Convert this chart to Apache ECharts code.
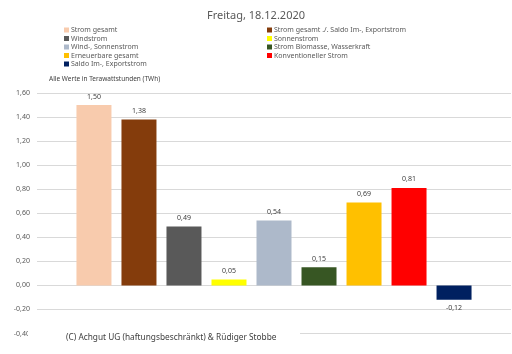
<!DOCTYPE html>
<html>
<head>
<meta charset="utf-8">
<script src="https://cdn.jsdelivr.net/npm/echarts@6/dist/echarts.min.js"></script>
<style>
  html, body { margin: 0; padding: 0; background: #fff; }
  #main { width: 512px; height: 354px; }
</style>
</head>
<body>
<div id="main"></div>
<script>
// Reihen (Legendenreihenfolge = Balkenreihenfolge)
var seriesNames = [
  'Strom gesamt',
  'Strom gesamt ./. Saldo Im-, Exportstrom',
  'Windstrom',
  'Sonnenstrom',
  'Wind-, Sonnenstrom',
  'Strom Biomasse, Wasserkraft',
  'Erneuerbare gesamt',
  'Konventioneller Strom',
  'Saldo Im-, Exportstrom'
];
var seriesValues = [1.50, 1.38, 0.49, 0.05, 0.54, 0.15, 0.69, 0.81, -0.12];
var seriesColors = ['#F8CBAD', '#843C0C', '#595959', '#FFFF00', '#ADB9CA', '#375623', '#FFC000', '#FF0000', '#002060'];
var legendLeft = ['Strom gesamt', 'Windstrom', 'Wind-, Sonnenstrom', 'Erneuerbare gesamt', 'Saldo Im-, Exportstrom'];
var legendRight = ['Strom gesamt ./. Saldo Im-, Exportstrom', 'Sonnenstrom', 'Strom Biomasse, Wasserkraft', 'Konventioneller Strom'];
var categories = ['Freitag'];

var font = 'Noto Sans';
function fmt(v) { return v.toFixed(2).replace('.', ','); }

var series = seriesNames.map(function (name, i) {
  return {
    name: name,
    type: 'bar',
    data: [seriesValues[i]],
    barWidth: 35,
    barGap: '28.6%',
    itemStyle: { color: seriesColors[i] },
    label: {
      show: true,
      position: seriesValues[i] < 0 ? 'bottom' : 'top',
      distance: 5,
      fontFamily: font,
      fontSize: 7,
      color: '#404040',
      formatter: function (p) { return fmt(p.value); }
    }
  };
});

var legendCommon = {
  orient: 'vertical',
  top: 26,
  itemWidth: 5,
  itemHeight: 5,
  itemGap: 0.5,
  icon: 'rect',
  padding: 0,
  textStyle: { fontFamily: font, fontSize: 7, color: '#595959', lineHeight: 8, padding: [0, 0, 0, -3] },
  selectedMode: false
};

var myChart = echarts.init(document.getElementById('main'));
myChart.setOption({
  animation: false,
  title: {
    text: 'Freitag, 18.12.2020',
    left: 'center',
    top: 5,
    textStyle: { fontFamily: font, fontSize: 11, fontWeight: 'normal', color: '#595959' }
  },
  legend: [
    Object.assign({ left: 64, data: legendLeft }, legendCommon),
    Object.assign({ left: 267, data: legendRight }, legendCommon)
  ],
  grid: { left: 37, right: 1, top: 93, bottom: 20.5 },
  xAxis: {
    type: 'category',
    data: categories,
    show: false
  },
  yAxis: {
    type: 'value',
    min: -0.4,
    max: 1.6,
    interval: 0.2,
    axisLine: { show: false },
    axisTick: { show: false },
    splitLine: { lineStyle: { color: '#D9D9D9', width: 1 } },
    axisLabel: {
      margin: 7,
      fontFamily: font,
      fontSize: 7,
      color: '#595959',
      formatter: function (v) { return fmt(v); }
    }
  },
  series: series,
  graphic: [
    {
      type: 'text',
      left: 49,
      top: 76,
      style: { text: 'Alle Werte in Terawattstunden (TWh)', fontFamily: font, fontSize: 6.5, fill: '#404040' }
    },
    {
      type: 'rect',
      shape: { x: 28, y: 326, width: 272, height: 28 },
      style: { fill: '#fff' },
      z: 100
    },
    {
      type: 'text',
      left: 66,
      top: 334,
      z: 101,
      style: { text: '(C) Achgut UG (haftungsbeschränkt) & Rüdiger Stobbe', fontFamily: font, fontSize: 8.3, fill: '#404040' }
    }
  ]
});
</script>
</body>
</html>
